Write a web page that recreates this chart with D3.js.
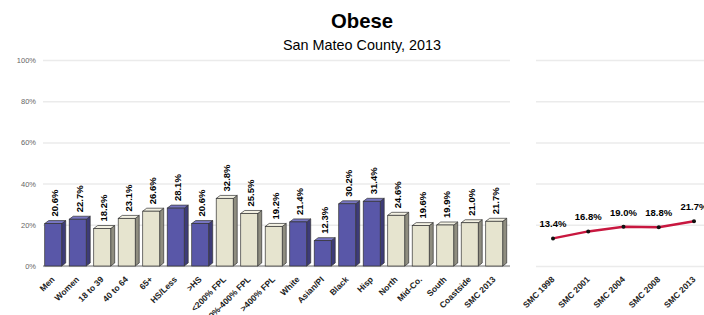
<!DOCTYPE html>
<html>
<head>
<meta charset="utf-8">
<script src="https://cdn.jsdelivr.net/npm/d3@7"></script>
<style>
  body { margin: 0; background: #fff; }
  svg { font-family: "Liberation Sans", Arial, sans-serif; }
</style>
</head>
<body>
<div id="chart"></div>
<script>
(function() {
  var width = 704, height = 315

  // left panel data
  var categories = ["Men", "Women", "18 to 39", "40 to 64", "65+", "HS/Less", ">HS",
    "<200% FPL", "200%-400% FPL", ">400% FPL", "White", "Asian/PI", "Black", "Hisp",
    "North", "Mid-Co.", "South", "Coastside", "SMC 2013"]
  var values = [20.6, 22.7, 18.2, 23.1, 26.6, 28.1, 20.6, 32.8, 25.5, 19.2, 21.4, 12.3,
    30.2, 31.4, 24.6, 19.6, 19.9, 21.0, 21.7]
  var highlighted = ["Men", "Women", "HS/Less", ">HS", "White", "Asian/PI", "Black", "Hisp"]

  // right panel data (trend)
  var years = ["SMC 1998", "SMC 2001", "SMC 2004", "SMC 2008", "SMC 2013"]
  var trend = [13.4, 16.8, 19.0, 18.8, 21.7]

  var yTicks = [0, 20, 40, 60, 80, 100]

  var svg = d3.select("#chart")
    .append("svg")
    .attr("width", width)
    .attr("height", height)

  var yPositionScale = d3.scaleLinear()
    .domain([0, 100])
    .range([266, 60])

  var xPositionScale = d3.scaleBand()
    .domain(categories)
    .range([43, 508.5])
    .paddingInner(0.14)
    .paddingOuter(0.07)

  var xTrendScale = d3.scalePoint()
    .domain(years)
    .range([553, 694])

  // Titles
  svg.append("text")
    .attr("x", 362).attr("y", 28)
    .attr("text-anchor", "middle")
    .attr("font-size", 21).attr("font-weight", "bold")
    .attr("textLength", 62).attr("lengthAdjust", "spacingAndGlyphs")
    .text("Obese")
  svg.append("text")
    .attr("x", 362).attr("y", 50)
    .attr("text-anchor", "middle")
    .attr("font-size", 15)
    .attr("textLength", 158).attr("lengthAdjust", "spacingAndGlyphs")
    .text("San Mateo County, 2013")

  // gridlines, both panels
  var yAxis = d3.axisLeft(yPositionScale)
    .tickValues(yTicks)
    .tickFormat(function(d) { return d + "%" })
    .tickSize(-(510 - 43))
  svg.append("g")
    .attr("class", "axis y-axis")
    .attr("transform", "translate(43,0)")
    .call(yAxis)

  svg.append("g")
    .attr("class", "axis y-axis-right")
    .attr("transform", "translate(536,0)")
    .call(d3.axisLeft(yPositionScale).tickValues(yTicks).tickFormat("").tickSize(-(704 - 536)))

  svg.selectAll(".domain").remove()
  svg.selectAll(".tick line")
    .attr("stroke", "#ebebeb")
    .attr("stroke-width", 1.5)
  svg.selectAll(".y-axis .tick text")
    .attr("x", -7)
    .attr("font-size", 7.5)
    .attr("fill", "#666")

  // baseline
  svg.append("line")
    .attr("x1", 43).attr("x2", 510)
    .attr("y1", yPositionScale(0)).attr("y2", yPositionScale(0))
    .attr("stroke", "#777").attr("stroke-width", 1)

  // 3D bars
  var face = 17, depth = 4, lift = 3
  var bars = svg.selectAll(".bar")
    .data(categories)
    .enter().append("g")
    .attr("class", "bar")

  function isBlue(d) { return highlighted.indexOf(d) >= 0 }

  bars.append("polygon")
    .attr("points", function(d, i) {
      var x0 = xPositionScale(d), yv = yPositionScale(values[i]), y0 = yPositionScale(0)
      return [[x0 + face, yv], [x0 + face + depth, yv - lift], [x0 + face + depth, y0 - lift], [x0 + face, y0]].join(" ")
    })
    .attr("fill", function(d) { return isBlue(d) ? "#3d3b78" : "#8f8d80" })
    .attr("stroke", "#333").attr("stroke-width", 0.7)

  bars.append("polygon")
    .attr("points", function(d, i) {
      var x0 = xPositionScale(d), yv = yPositionScale(values[i])
      return [[x0, yv], [x0 + depth, yv - lift], [x0 + face + depth, yv - lift], [x0 + face, yv]].join(" ")
    })
    .attr("fill", function(d) { return isBlue(d) ? "#7876c2" : "#f3f1e3" })
    .attr("stroke", "#333").attr("stroke-width", 0.7)

  bars.append("rect")
    .attr("x", function(d) { return xPositionScale(d) })
    .attr("y", function(d, i) { return yPositionScale(values[i]) })
    .attr("width", face)
    .attr("height", function(d, i) { return yPositionScale(0) - yPositionScale(values[i]) })
    .attr("fill", function(d) { return isBlue(d) ? "#5957a8" : "#e6e4cf" })
    .attr("stroke", "#333").attr("stroke-width", 0.7)

  // value labels
  bars.append("text")
    .attr("transform", function(d, i) {
      var cx = xPositionScale(d) + face / 2 + 5
      return "translate(" + cx + "," + (yPositionScale(values[i]) - 7) + ") rotate(-90)"
    })
    .attr("font-size", 9.5).attr("font-weight", "bold")
    .text(function(d, i) { return values[i].toFixed(1) + "%" })

  // category labels
  bars.append("text")
    .attr("transform", function(d) {
      var cx = xPositionScale(d) + face / 2 + 2
      return "translate(" + cx + "," + (yPositionScale(0) + 14) + ") rotate(-45)"
    })
    .attr("text-anchor", "end")
    .attr("font-size", 8.5).attr("font-weight", "bold")
    .attr("fill", "#222")
    .text(function(d) { return d })

  // trend line
  var line = d3.line()
    .x(function(d, i) { return xTrendScale(years[i]) })
    .y(function(d) { return yPositionScale(d) })

  svg.append("path")
    .datum(trend)
    .attr("d", line)
    .attr("fill", "none")
    .attr("stroke", "#c8173f")
    .attr("stroke-width", 2.5)

  svg.selectAll(".dot")
    .data(trend)
    .enter().append("circle")
    .attr("class", "dot")
    .attr("cx", function(d, i) { return xTrendScale(years[i]) })
    .attr("cy", function(d) { return yPositionScale(d) })
    .attr("r", 2)
    .attr("fill", "#111")

  svg.selectAll(".trend-label")
    .data(trend)
    .enter().append("text")
    .attr("class", "trend-label")
    .attr("x", function(d, i) { return xTrendScale(years[i]) })
    .attr("y", function(d) { return yPositionScale(d) - 11 })
    .attr("text-anchor", "middle")
    .attr("font-size", 9.5).attr("font-weight", "bold")
    .text(function(d) { return d.toFixed(1) + "%" })

  svg.selectAll(".year-label")
    .data(years)
    .enter().append("text")
    .attr("class", "year-label")
    .attr("transform", function(d) {
      return "translate(" + (xTrendScale(d) + 2) + "," + (yPositionScale(0) + 14) + ") rotate(-45)"
    })
    .attr("text-anchor", "end")
    .attr("font-size", 8.5).attr("font-weight", "bold")
    .attr("fill", "#222")
    .text(function(d) { return d })
})();
</script>
</body>
</html>
